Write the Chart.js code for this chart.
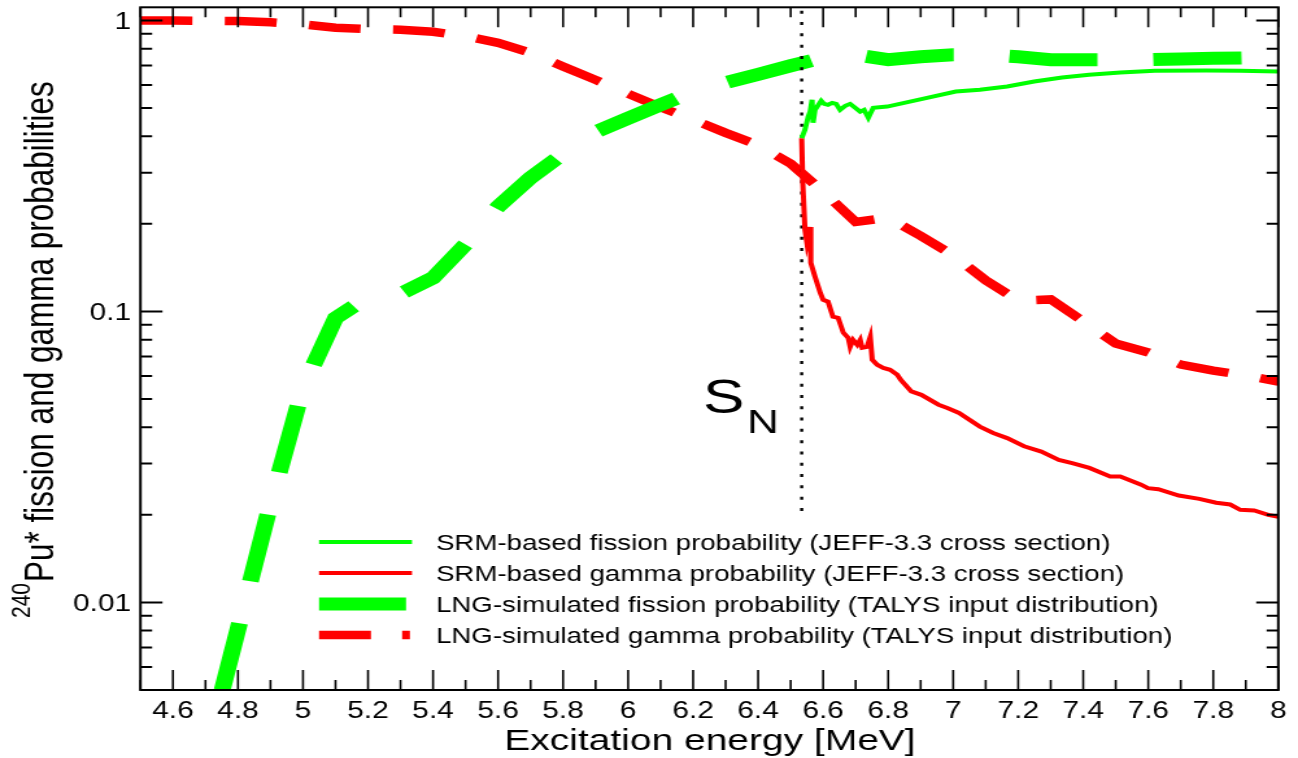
<!DOCTYPE html>
<html>
<head>
<meta charset="utf-8">
<script src="https://cdn.jsdelivr.net/npm/chart.js@4.4.0/dist/chart.umd.min.js"></script>
<style>
    html, body { margin: 0; padding: 0; background: #fff; overflow: hidden; }
    /* o canvas é desenhado com 1000px e esticado na horizontal, como no original */
    #grafico { display: block; width: 1298px !important; height: 758px !important; }
</style>
</head>
<body>
<canvas id="grafico" width="1000" height="758" style="width:1298px;height:758px"></canvas>
<script>
// --- DADOS ---
// LNG (simulação, passo de 0.1 MeV)
const lngEnergia = [4.5, 4.6, 4.7, 4.8, 4.9, 5.0, 5.1, 5.2, 5.3, 5.4, 5.5, 5.6, 5.7, 5.8, 5.9, 6.0, 6.1, 6.2,
    6.3, 6.4, 6.5, 6.6, 6.7, 6.8, 6.9, 7.0, 7.1, 7.2, 7.3, 7.4, 7.5, 7.6, 7.7, 7.8, 7.9, 8.0];
const lngFissao = [null, null, 0.0030, 0.0081, 0.0218, 0.0547, 0.0949, 0.112, 0.115, 0.1305, 0.170, 0.229,
    0.288, 0.348, 0.414, 0.461, 0.513, 0.569, 0.611, 0.653, 0.699, 0.745, 0.762, 0.733, 0.750, 0.762,
    0.762, 0.750, 0.733, 0.733, 0.733, 0.734, 0.738, 0.741, 0.744, 0.747];
const lngGama = [1.0, 1.0, 0.998, 0.996, 0.986, 0.970, 0.944, 0.934, 0.930, 0.915, 0.883, 0.838, 0.774,
    0.695, 0.625, 0.560, 0.503, 0.456, 0.411, 0.373, 0.322, 0.258, 0.203, 0.210, 0.182, 0.156, 0.128,
    0.109, 0.110, 0.0925, 0.0776, 0.0723, 0.0657, 0.0626, 0.0602, 0.0574];

// SRM (secção eficaz JEFF-3.3)
const srmFissaoE = [6.534, 6.544, 6.554, 6.560, 6.566, 6.569, 6.575, 6.594, 6.603, 6.615, 6.628, 6.640,
    6.652, 6.668, 6.683, 6.699, 6.714, 6.726, 6.739, 6.754, 6.797, 6.902, 7.008, 7.082, 7.166, 7.249,
    7.335, 7.418, 7.514, 7.620, 7.778, 7.883, 8.0];
const srmFissaoP = [0.394, 0.421, 0.467, 0.486, 0.534, 0.445, 0.493, 0.530, 0.517, 0.513, 0.521, 0.517,
    0.493, 0.509, 0.517, 0.501, 0.486, 0.493, 0.463, 0.501, 0.506, 0.537, 0.570, 0.578, 0.593, 0.617,
    0.637, 0.651, 0.663, 0.672, 0.673, 0.672, 0.668];
const srmGamaE = [6.534, 6.537, 6.544, 6.550, 6.560, 6.562, 6.575, 6.591, 6.600, 6.615, 6.630, 6.646,
    6.662, 6.677, 6.683, 6.692, 6.705, 6.714, 6.720, 6.735, 6.745, 6.751, 6.766, 6.785, 6.806, 6.828,
    6.839, 6.871, 6.902, 6.955, 6.982, 7.018, 7.082, 7.123, 7.166, 7.218, 7.271, 7.325, 7.366, 7.419,
    7.483, 7.514, 7.578, 7.599, 7.631, 7.694, 7.757, 7.809, 7.852, 7.883, 7.926, 7.969, 8.0];
const srmGamaP = [0.394, 0.284, 0.191, 0.172, 0.195, 0.147, 0.1316, 0.116, 0.1097, 0.108, 0.0959, 0.0951,
    0.0845, 0.0812, 0.0756, 0.0799, 0.0768, 0.0799, 0.0750, 0.0756, 0.0818, 0.0682, 0.0656, 0.0640, 0.0630,
    0.0606, 0.0582, 0.0531, 0.0517, 0.0478, 0.0466, 0.0448, 0.0402, 0.0382, 0.0367, 0.0344, 0.0330, 0.0309,
    0.0301, 0.0290, 0.0271, 0.0271, 0.0254, 0.0247, 0.0245, 0.0233, 0.0227, 0.0220, 0.0217, 0.0208, 0.0207,
    0.0200, 0.0197];

// energia de separação do neutrão (linha pontilhada)
const snEnergia = 6.534;
const snLimites = [1.08, 0.02];

// eixos
const xMin = 4.5, xMax = 8.0;
const yMin = 0.005, yMax = 1.11;
const xTickValores = [4.6, 4.8, 5.0, 5.2, 5.4, 5.6, 5.8, 6.0, 6.2, 6.4, 6.6, 6.8, 7.0, 7.2, 7.4, 7.6, 7.8, 8.0];
const xTickLabels = ["4.6", "4.8", "5", "5.2", "5.4", "5.6", "5.8", "6", "6.2", "6.4", "6.6", "6.8", "7",
    "7.2", "7.4", "7.6", "7.8", "8"];
const yTickValores = [0.01, 0.1, 1];
const yTickLabels = ["0.01", "0.1", "1"];

const legendaTextos = [
    "SRM-based fission probability (JEFF-3.3 cross section)",
    "SRM-based gamma probability (JEFF-3.3 cross section)",
    "LNG-simulated fission probability (TALYS input distribution)",
    "LNG-simulated gamma probability (TALYS input distribution)"
];

const VERDE = "#00ff00";
const VERMELHO = "#ff0000";
const FONTE = '"Liberation Sans", Arial, Helvetica, sans-serif';

function pares(xs, ys) {
    return xs.map((v, i) => ({ x: v, y: ys[i] }));
}

// --- PLUGIN: moldura, ticks, textos e legenda ---
const decoracao = {
    id: "decoracao",
    afterDraw(chart) {
        const ctx = chart.ctx;
        const a = chart.chartArea;
        const sx = chart.scales.x;
        const sy = chart.scales.y;

        ctx.save();
        ctx.strokeStyle = "#000";
        ctx.fillStyle = "#000";

        // ticks do eixo x (dentro, em baixo e em cima)
        ctx.lineWidth = 1.6;
        for (let i = 0; i <= 35; i++) {
            const v = xMin + i * 0.1;
            const px = sx.getPixelForValue(v);
            const len = (i % 2 === 1) ? 20 : 10;
            ctx.beginPath();
            ctx.moveTo(px, a.bottom); ctx.lineTo(px, a.bottom - len);
            ctx.moveTo(px, a.top); ctx.lineTo(px, a.top + len);
            ctx.stroke();
        }

        // ticks do eixo y (log)
        ctx.lineWidth = 2;
        [0.001, 0.01, 0.1, 1].forEach(dec => {
            for (let m = 1; m <= 9; m++) {
                const v = m * dec;
                if (v < yMin - 1e-9 || v > yMax) continue;
                const py = sy.getPixelForValue(v);
                const len = m === 1 ? 17 : 9;
                ctx.beginPath();
                ctx.moveTo(a.left, py); ctx.lineTo(a.left + len, py);
                ctx.moveTo(a.right, py); ctx.lineTo(a.right - len, py);
                ctx.stroke();
            }
        });

        // moldura
        ctx.lineWidth = 2;
        ctx.strokeRect(a.left, a.top, a.right - a.left, a.bottom - a.top);

        // rótulos dos ticks
        ctx.font = "23px " + FONTE;
        ctx.textAlign = "center";
        ctx.textBaseline = "alphabetic";
        xTickValores.forEach((v, i) => {
            ctx.fillText(xTickLabels[i], sx.getPixelForValue(v), 718);
        });
        ctx.textAlign = "right";
        yTickValores.forEach((v, i) => {
            ctx.fillText(yTickLabels[i], 101, sy.getPixelForValue(v) + 8.5);
        });

        // título do eixo x
        ctx.font = "30px " + FONTE;
        ctx.textAlign = "center";
        ctx.fillText("Excitation energy [MeV]", 547, 750);

        // título do eixo y (com sobrescrito)
        ctx.save();
        ctx.translate(40.8, 618);
        ctx.rotate(-Math.PI / 2);
        ctx.textAlign = "left";
        ctx.font = "21px " + FONTE;
        ctx.fillText("240", 0, -17.8);
        const w240 = ctx.measureText("240").width;
        ctx.font = "31.5px " + FONTE;
        ctx.fillText("Pu* fission and gamma probabilities", w240 + 1, 0);
        ctx.restore();

        // S_N
        ctx.textAlign = "left";
        ctx.font = "48px " + FONTE;
        ctx.fillText("S", 541.6, 413);
        ctx.font = "34px " + FONTE;
        ctx.fillText("N", 575.5, 433);

        // legenda
        const linhasY = [542, 573, 604, 635];
        const x0 = 245.8, x1 = 317.4;
        const estilos = [
            { cor: VERDE, largura: 4, dash: [] },
            { cor: VERMELHO, largura: 4, dash: [] },
            { cor: VERDE, largura: 13, dash: [], fim: 312.8 },
            { cor: VERMELHO, largura: 8.5, dash: [40, 24, 6, 24] }
        ];
        estilos.forEach((e, i) => {
            ctx.save();
            ctx.strokeStyle = e.cor;
            ctx.lineWidth = e.largura;
            ctx.setLineDash(e.dash);
            ctx.beginPath();
            ctx.moveTo(x0, linhasY[i]);
            ctx.lineTo(e.fim || x1, linhasY[i]);
            ctx.stroke();
            ctx.restore();
        });
        ctx.font = "21.3px " + FONTE;
        ctx.textAlign = "left";
        legendaTextos.forEach((t, i) => {
            ctx.fillText(t, 335.9, linhasY[i] + 7.6);
        });

        ctx.restore();
    }
};

// --- GRÁFICO ---
const ctxGrafico = document.getElementById("grafico").getContext("2d");

const graficoPrincipal = new Chart(ctxGrafico, {
    type: "line",
    data: {
        datasets: [
            {
                label: legendaTextos[0],
                data: pares(srmFissaoE, srmFissaoP),
                borderColor: VERDE,
                borderWidth: 4,
            },
            {
                label: legendaTextos[1],
                data: pares(srmGamaE, srmGamaP),
                borderColor: VERMELHO,
                borderWidth: 4,
            },
            {
                label: "SN",
                data: snLimites.map(v => ({ x: snEnergia, y: v })),
                borderColor: "#000",
                borderWidth: 2.4,
                borderDash: [3, 8.3],
            },
            {
                label: legendaTextos[2],
                data: pares(lngEnergia, lngFissao),
                borderColor: VERDE,
                borderWidth: 13,
                borderDash: [68, 43],
                // o traço começa exatamente onde a curva entra no gráfico
                borderDashOffset: 45.2,
            },
            {
                label: legendaTextos[3],
                data: pares(lngEnergia, lngGama),
                borderColor: VERMELHO,
                borderWidth: 8.5,
                borderDash: [40, 25],
            }
        ]
    },
    options: {
        responsive: false,
        animation: false,
        devicePixelRatio: 1,
        parsing: true,
        elements: {
            point: { radius: 0 },
            line: { tension: 0, fill: false, borderJoinStyle: "miter" }
        },
        layout: { padding: { left: 108.2, right: 15.2, top: 7.3, bottom: 68 } },
        plugins: {
            legend: { display: false },
            tooltip: { enabled: false }
        },
        scales: {
            x: { type: "linear", min: xMin, max: xMax, display: false },
            y: { type: "logarithmic", min: yMin, max: yMax, display: false }
        }
    },
    plugins: [decoracao]
});
</script>
</body>
</html>
